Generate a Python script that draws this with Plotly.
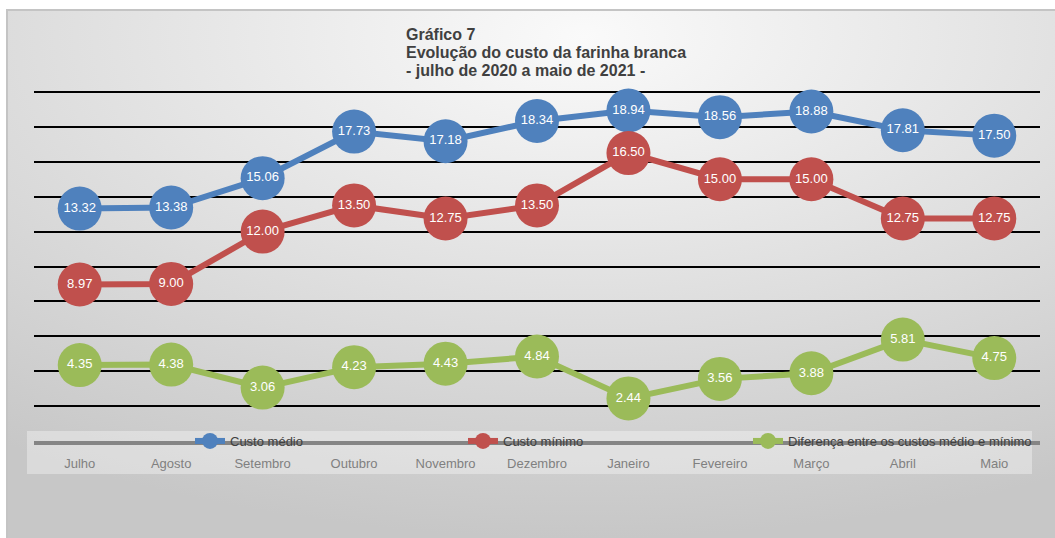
import base64
import plotly.graph_objects as go

months = ["Julho", "Agosto", "Setembro", "Outubro", "Novembro", "Dezembro",
          "Janeiro", "Fevereiro", "Março", "Abril", "Maio"]
custo_medio = [13.32, 13.38, 15.06, 17.73, 17.18, 18.34, 18.94, 18.56, 18.88, 17.81, 17.50]
custo_minimo = [8.97, 9.00, 12.00, 13.50, 12.75, 13.50, 16.50, 15.00, 15.00, 12.75, 12.75]
diferenca = [4.35, 4.38, 3.06, 4.23, 4.43, 4.84, 2.44, 3.56, 3.88, 5.81, 4.75]
series_names = ["Custo médio", "Custo mínimo", "Diferença entre os custos médio e mínimo"]
series_colors = ["#4F81BD", "#C0504D", "#9BBB59"]
title_lines = ["Gráfico 7", "Evolução do custo da farinha branca", "- julho de 2020 a maio de 2021 -"]

W, H = 1055, 538
PX_PER_UNIT = 17.45
L, R, T, B = 34, 1040, 88, 441  # plot area in px
Y_MAX = 20 + 4 / PX_PER_UNIT


def px_x(px):
    return (px - L) / (R - L)


def px_y(py):
    return (B - py) / (B - T)


FONT = "Liberation Sans, Arial, sans-serif"

fig = go.Figure()
all_series = [custo_medio, custo_minimo, diferenca]
legend_ids = ["legend", "legend2", "legend3"]
for vals, name, col, lg in zip(all_series, series_names, series_colors, legend_ids):
    fig.add_trace(go.Scatter(
        x=months, y=vals, name=name, mode="lines+markers",
        line=dict(color=col, width=6),
        marker=dict(color=col, size=44),
        legend=lg, cliponaxis=False,
    ))
for vals, col in zip(all_series, series_colors):
    fig.add_trace(go.Scatter(
        x=months, y=vals, mode="text", text=[f"{v:.2f}" for v in vals],
        textposition="middle center",
        textfont=dict(color="white", size=13, family=FONT),
        showlegend=False, cliponaxis=False, hoverinfo="skip",
    ))

svg = f'''<svg xmlns="http://www.w3.org/2000/svg" width="1048" height="528" viewBox="0 0 1048 528" preserveAspectRatio="none">
<defs><radialGradient id="g" cx="0.55" cy="0.05" r="0.95" gradientUnits="objectBoundingBox">
<stop offset="0" stop-color="#fafafa"/><stop offset="1" stop-color="#c7c7c7"/></radialGradient></defs>
<rect x="0" y="0" width="1048" height="528" fill="url(#g)"/></svg>'''
src = "data:image/svg+xml;base64," + base64.b64encode(svg.encode()).decode()

fig.add_layout_image(dict(
    source=src, xref="paper", yref="paper",
    x=px_x(7), y=px_y(10), sizex=(W - 7) / (R - L), sizey=(H - 10) / (B - T),
    xanchor="left", yanchor="top", sizing="stretch", layer="below",
))

shapes = [
    dict(type="rect", xref="paper", yref="paper", x0=px_x(27), x1=px_x(1032),
         y0=px_y(431), y1=px_y(474), fillcolor="rgba(255,255,255,0.35)",
         line=dict(width=0), layer="below"),
    dict(type="rect", xref="paper", yref="paper", x0=px_x(7), x1=px_x(1062),
         y0=px_y(10), y1=px_y(548), fillcolor="rgba(0,0,0,0)",
         line=dict(color="#c4c4c4", width=2), layer="below"),
]

annotations = []
for i, line in enumerate(title_lines):
    annotations.append(dict(
        text=f"<b>{line}</b>", xref="paper", yref="paper",
        x=px_x(404), y=px_y(35 + 18 * i), xanchor="left", yanchor="middle",
        showarrow=False, font=dict(family=FONT, size=16, color="#404040"),
    ))

leg_common = dict(orientation="h", bgcolor="rgba(0,0,0,0)", yanchor="middle",
                  y=px_y(441), xanchor="left",
                  font=dict(family=FONT, size=13, color="#404040"))
leg_x = [195, 468, 753]

fig.update_layout(
    width=W, height=H,
    margin=dict(l=L, r=W - R, t=T, b=H - B, autoexpand=False),
    paper_bgcolor="white", plot_bgcolor="rgba(0,0,0,0)",
    font=dict(family=FONT),
    showlegend=True,
    legend=dict(x=px_x(leg_x[0] - 5), **leg_common),
    legend2=dict(x=px_x(leg_x[1] - 5), **leg_common),
    legend3=dict(x=px_x(leg_x[2] - 5), **leg_common),
    xaxis=dict(range=[-0.5, 10.5], showgrid=False, showline=True, linecolor="#858585", linewidth=4,
               ticks="outside", ticklen=7, tickcolor="rgba(0,0,0,0)",
               tickfont=dict(family=FONT, size=13, color="#808080"),
               zeroline=False, fixedrange=True),
    yaxis=dict(range=[0, Y_MAX], dtick=2, tick0=0, showgrid=True, gridcolor="#000000", gridwidth=2,
               showticklabels=False, zeroline=False, showline=False, fixedrange=True),
    shapes=shapes, annotations=annotations,
)

fig.write_html("out.html", config={"displayModeBar": False},
               post_script="document.body.style.margin='0';")
